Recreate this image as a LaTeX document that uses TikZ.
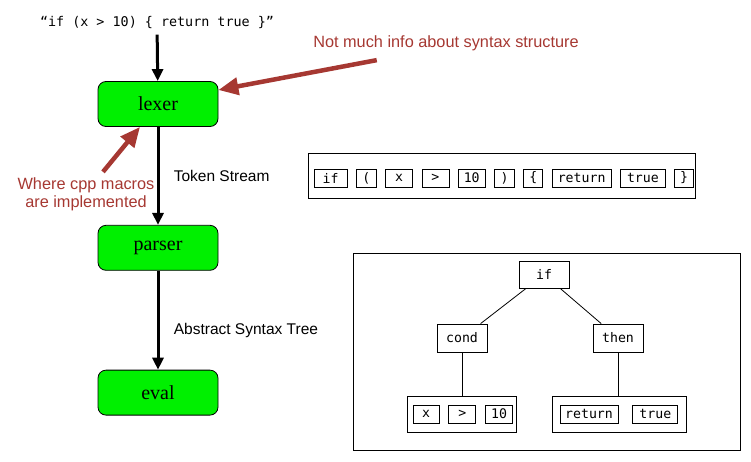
\documentclass[tikz,border=0pt]{standalone}
\usepackage{fontspec}
\setmainfont{Liberation Serif}
\setsansfont{Liberation Sans}
\setmonofont{DejaVu Sans Mono}
\usetikzlibrary{arrows.meta,positioning}
\definecolor{notered}{RGB}{166,56,50}
\definecolor{stagegreen}{RGB}{0,240,0}

\begin{document}
\begin{tikzpicture}[x=1pt, y=-1pt]
\tikzset{
    mystage/.style={rectangle, rounded corners=8pt, draw=black, fill=stagegreen, line width=0.8pt, minimum width=120pt, minimum height=45pt, font=\fontsize{20}{23}\selectfont},
    mytoken/.style={rectangle, draw=black, fill=white, line width=0.8pt, inner sep=0pt, minimum height=18pt, minimum width=#1, font=\ttfamily\fontsize{13.2}{15}\selectfont},
    mytoken/.default=27pt,
    mytreenode/.style={mytoken=50pt, minimum height=27pt},
    mygroup/.style={rectangle, draw=black, line width=1pt, inner sep=0pt},
    myarrow/.style={-{Triangle[length=12pt,width=11pt]}, line width=3pt},
    mynote/.style={text=notered, font=\sffamily\fontsize{16.3}{18}\selectfont, align=center},
    mynotearrow/.style={-{Triangle[length=20pt,width=17pt]}, line width=4.5pt, draw=notered},
    mylabel/.style={font=\sffamily\fontsize{15.5}{18}\selectfont}
}
\useasboundingbox (0,0) rectangle (751,461);

% pipeline
\node[font=\ttfamily\fontsize{13.4}{15}\selectfont] (source) at (157,22) {“if (x > 10) \{ return true \}”};
\node[mystage] (lexer) at (158,104) {lexer};
\node[mystage, below=98pt of lexer] (parser) {parser};
\node[mystage, below=99pt of parser] (eval) {eval};

\draw[myarrow, shorten <=3pt] (source) -- (lexer);
\draw[myarrow] (lexer) -- (parser) node[mylabel, midway, right=11pt] {Token Stream};
\draw[myarrow] (parser) -- (eval) node[mylabel, pos=0.6, right=11pt] {Abstract Syntax Tree};

% token stream
\node[mygroup, minimum width=387pt, minimum height=45pt] (stream) at (501.5,175.5) {};
\node[mytoken=33pt] (tif) at (330.5,178) {if};
\node[mytoken=20pt, right=8.5pt of tif] (tlparen) {(};
\node[mytoken, right=8.5pt of tlparen] (tx) {x};
\node[mytoken, right=8.5pt of tx] (tgt) {>};
\node[mytoken, right=8.5pt of tgt] (tten) {10};
\node[mytoken=20pt, right=8.5pt of tten] (trparen) {)};
\node[mytoken=19pt, right=8.5pt of trparen] (tlbrace) {\{};
\node[mytoken=59pt, right=8.5pt of tlbrace] (treturn) {return};
\node[mytoken=45pt, right=8.5pt of treturn] (ttrue) {true};
\node[mytoken=19pt, right=8.5pt of ttrue] (trbrace) {\}};

% syntax tree
\node[mygroup, minimum width=387pt, minimum height=197pt] (ast) at (546.5,351.5) {};
\node[mytreenode] (ifnode) at (544,274.5) {if};
\node[mytreenode, minimum height=28pt] (cond) at (462,338) {cond};
\node[mytreenode, minimum height=28pt] (then) at (618,338) {then};
\node[mygroup, minimum width=109pt, minimum height=36pt] (condgroup) at (461.5,414) {};
\node[mytoken=26pt] (cx) at (426,414) {x};
\node[mytoken, right=9pt of cx] (cgt) {>};
\node[mytoken, right=9pt of cgt] (cten) {10};
\node[mygroup, minimum width=134pt, minimum height=36pt] (thengroup) at (619,414) {};
\node[mytoken=58pt] (rreturn) at (589,414) {return};
\node[mytoken=45pt, right=14pt of rreturn] (rtrue) {true};

\draw[line width=0.8pt] (ifnode) -- (cond);
\draw[line width=0.8pt] (ifnode) -- (then);
\draw[line width=0.8pt] (cond) -- (cond |- condgroup.north);
\draw[line width=0.8pt] (then) -- (then |- thengroup.north);

% notes
\node[mynote] (note1) at (446,43) {Not much info about syntax structure};
\node[mynote] (note2) at (86,194) {Where cpp macros\\are implemented};
\draw[mynotearrow] ([xshift=67pt,yshift=-6pt]note1.south west) -- ([yshift=14pt]lexer.east);
\draw[mynotearrow] ([xshift=17pt,yshift=2pt]note2.north) -- ([xshift=-18pt]lexer.south);

\end{tikzpicture}
\end{document}
